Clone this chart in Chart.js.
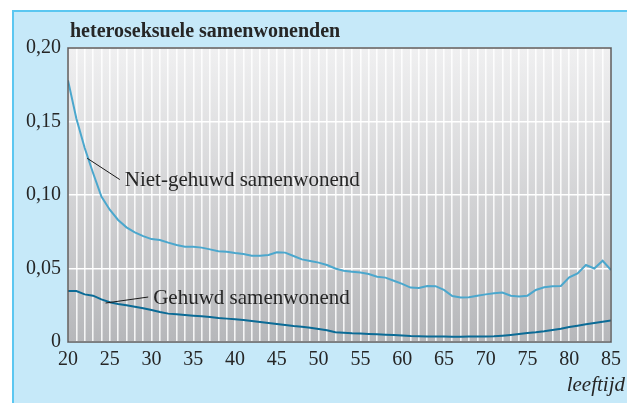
<!DOCTYPE html>
<html>
<head>
<meta charset="utf-8">
<script src="https://cdn.jsdelivr.net/npm/chart.js@4/dist/chart.umd.min.js"></script>
<style>
    html, body { margin: 0; padding: 0; background: #ffffff; }
    #wrap { position: relative; width: 627px; height: 403px; overflow: hidden; }
    #panel {
        position: absolute; left: 12px; top: 10px; right: 0; bottom: 0;
        background: #c6e9f9;
        border-top: 2px solid #5bc7f1;
        border-left: 2px solid #5bc7f1;
    }
    #chart { position: absolute; left: 0; top: 0; }
</style>
</head>
<body>
<div id="wrap">
    <div id="panel"></div>
    <canvas id="chart" width="627" height="403"></canvas>
</div>
<script>
// leeftijd 20 .. 85
const ages = [
    20, 21, 22, 23, 24, 25, 26, 27, 28, 29,
    30, 31, 32, 33, 34, 35, 36, 37, 38, 39,
    40, 41, 42, 43, 44, 45, 46, 47, 48, 49,
    50, 51, 52, 53, 54, 55, 56, 57, 58, 59,
    60, 61, 62, 63, 64, 65, 66, 67, 68, 69,
    70, 71, 72, 73, 74, 75, 76, 77, 78, 79,
    80, 81, 82, 83, 84, 85
];

const nietGehuwd = [
    0.178, 0.152, 0.132, 0.115, 0.099, 0.090, 0.083, 0.078, 0.0746, 0.072,
    0.070, 0.0694, 0.0676, 0.066, 0.0648, 0.0648, 0.0642, 0.063, 0.0617, 0.0614,
    0.0605, 0.0599, 0.0587, 0.0587, 0.0592, 0.061, 0.0608, 0.0585, 0.0562, 0.0551,
    0.054, 0.0524, 0.050, 0.0485, 0.0478, 0.0472, 0.0463, 0.0444, 0.0438, 0.0417,
    0.0395, 0.037, 0.0367, 0.0381, 0.038, 0.0354, 0.0313, 0.0302, 0.0304, 0.0315,
    0.0324, 0.0331, 0.0336, 0.0315, 0.031, 0.0315, 0.0354, 0.0372, 0.0379, 0.0381,
    0.044, 0.0467, 0.0524, 0.050, 0.0553, 0.049
];

const gehuwd = [
    0.0347, 0.0347, 0.0324, 0.0315, 0.029, 0.027, 0.0259, 0.025, 0.024, 0.0229,
    0.0218, 0.0204, 0.0193, 0.0188, 0.0184, 0.0179, 0.0175, 0.017, 0.0163, 0.0159,
    0.0154, 0.015, 0.0143, 0.0136, 0.0129, 0.0122, 0.0116, 0.0109, 0.0104, 0.0097,
    0.0088, 0.008, 0.0066, 0.0063, 0.0059, 0.0057, 0.0054, 0.0052, 0.005, 0.0048,
    0.0045, 0.0041, 0.0039, 0.0038, 0.0037, 0.0037, 0.0036, 0.0036, 0.0037, 0.0038,
    0.0038, 0.0039, 0.0043, 0.0048, 0.0054, 0.0061, 0.0066, 0.0073, 0.0082, 0.009,
    0.0102, 0.0111, 0.012, 0.0129, 0.0138, 0.0147
];

const yTicks = [0, 0.05, 0.10, 0.15, 0.20];
const xTickLabels = [20, 25, 30, 35, 40, 45, 50, 55, 60, 65, 70, 75, 80, 85];

const TITLE = 'heteroseksuele samenwonenden';
const X_TITLE = 'leeftijd';

// labels with a leader line, in data units: [fromAge, fromValue, toAge, toValue, text]
const callouts = [
    [22.3, 0.125, 26.2, 0.1105, 'Niet-gehuwd samenwonend'],
    [24.5, 0.0265, 29.6, 0.0306, 'Gehuwd samenwonend']
];

const SERIF = '"Liberation Serif", "DejaVu Serif", serif';
const INK = '#262626';

const toPoints = values => values.map((v, i) => ({ x: ages[i], y: v }));

/**
 * Grey gradient behind the plot area
 */
const plotBackground = {
    id: 'plotBackground',
    beforeDraw(chart) {
        const { ctx, chartArea: a } = chart;
        const grad = ctx.createLinearGradient(0, a.top, 0, a.bottom);
        grad.addColorStop(0, '#f0f0f1');
        grad.addColorStop(1, '#b6b7ba');
        ctx.save();
        ctx.fillStyle = grad;
        ctx.fillRect(a.left, a.top, a.right - a.left, a.bottom - a.top);
        ctx.restore();
    }
};

/**
 * Frame, title, axis title and callout labels
 */
const decorations = {
    id: 'decorations',
    afterDraw(chart) {
        const { ctx, chartArea: a, scales } = chart;
        ctx.save();

        ctx.strokeStyle = '#58585a';
        ctx.lineWidth = 1.5;
        ctx.strokeRect(a.left, a.top, a.right - a.left, a.bottom - a.top);

        ctx.fillStyle = INK;
        ctx.textBaseline = 'alphabetic';
        ctx.textAlign = 'left';
        ctx.font = 'bold 20px ' + SERIF;
        ctx.fillText(TITLE, a.left + 2, 37);

        ctx.textAlign = 'right';
        ctx.font = 'italic 21px ' + SERIF;
        ctx.fillText(X_TITLE, 625, 391);

        ctx.textAlign = 'left';
        ctx.textBaseline = 'middle';
        ctx.font = '21px ' + SERIF;
        ctx.lineWidth = 1;
        ctx.strokeStyle = '#1a1a1a';
        callouts.forEach(([x1, y1, x2, y2, text]) => {
            const px1 = scales.x.getPixelForValue(x1);
            const py1 = scales.y.getPixelForValue(y1);
            const px2 = scales.x.getPixelForValue(x2);
            const py2 = scales.y.getPixelForValue(y2);
            ctx.beginPath();
            ctx.moveTo(px1, py1);
            ctx.lineTo(px2, py2);
            ctx.stroke();
            ctx.fillText(text, px2 + 5, py2 + 1);
        });

        ctx.restore();
    }
};

new Chart(document.getElementById('chart'), {
    type: 'line',
    data: {
        datasets: [
            {
                label: 'Niet-gehuwd samenwonend',
                data: toPoints(nietGehuwd),
                borderColor: '#4ba7cd',
                borderWidth: 2,
                pointRadius: 0,
                tension: 0
            },
            {
                label: 'Gehuwd samenwonend',
                data: toPoints(gehuwd),
                borderColor: '#0b6b96',
                borderWidth: 2,
                pointRadius: 0,
                tension: 0
            }
        ]
    },
    options: {
        responsive: false,
        animation: false,
        events: [],
        layout: { padding: { top: 48, right: 14, left: 0, bottom: 0 } },
        plugins: {
            legend: { display: false },
            tooltip: { enabled: false }
        },
        scales: {
            x: {
                type: 'linear',
                min: ages[0],
                max: ages[ages.length - 1],
                afterFit: scale => { scale.height = 61; },
                border: { display: false },
                grid: { color: 'rgba(255,255,255,0.85)', lineWidth: 1.6, drawTicks: false },
                ticks: {
                    stepSize: 1,
                    autoSkip: false,
                    maxRotation: 0,
                    maxTicksLimit: 200,
                    padding: 6,
                    color: INK,
                    font: { family: SERIF, size: 20 },
                    callback: value => xTickLabels.includes(value) ? String(value) : ''
                }
            },
            y: {
                min: yTicks[0],
                max: yTicks[yTicks.length - 1],
                afterFit: scale => { scale.width = 68; },
                afterBuildTicks: scale => { scale.ticks = yTicks.map(v => ({ value: v })); },
                border: { display: false },
                grid: { color: '#ffffff', lineWidth: 1.5, drawTicks: false },
                ticks: {
                    padding: 7,
                    color: INK,
                    font: { family: SERIF, size: 20 },
                    callback: value => value === 0 ? '0' : value.toFixed(2).replace('.', ',')
                }
            }
        }
    },
    plugins: [plotBackground, decorations]
});
</script>
</body>
</html>
